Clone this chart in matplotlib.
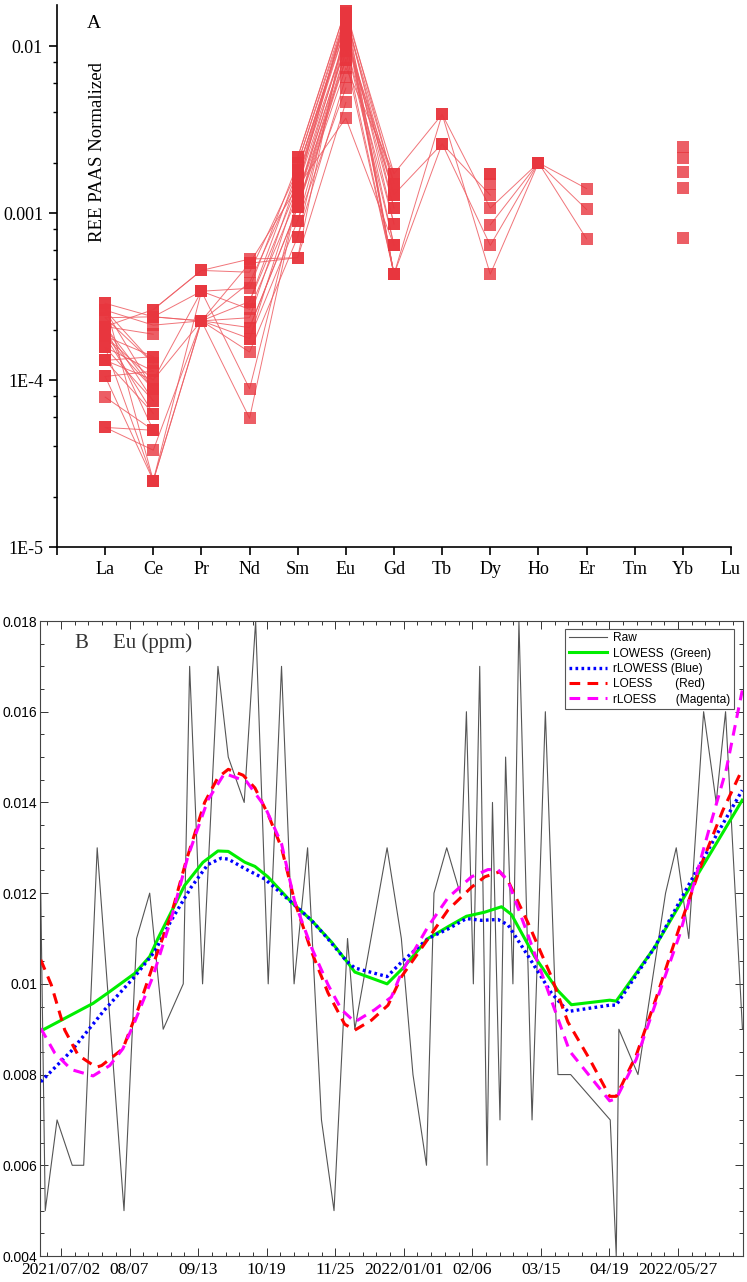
import numpy as np
import matplotlib.pyplot as plt
from matplotlib.ticker import FixedLocator, MultipleLocator, NullFormatter, LogLocator

nan = np.nan

# ===== PANEL A: REE patterns (PAAS normalized), one entry per sample =====
elements = ['La', 'Ce', 'Pr', 'Nd', 'Sm', 'Eu', 'Gd', 'Tb', 'Dy', 'Ho', 'Er', 'Tm', 'Yb', 'Lu']

la = [2.88e-4, 2.62e-4, 2.36e-4, 2.09e-4, 1.83e-4, 1.57e-4, 1.31e-4, 1.05e-4, 7.9e-5, 5.2e-5,
      2.88e-4, 2.62e-4, 2.09e-4, 1.83e-4, 1.57e-4, 2.09e-4, 1.31e-4, 1.83e-4, 2.36e-4, 5.2e-5,
      1.05e-4, 2.09e-4, 1.57e-4, 2.62e-4, 1.83e-4, nan, nan, nan, 1.31e-4, nan, nan, 2.09e-4]
ce = [2.39e-4, 1.26e-4, 2.39e-4, 2.64e-4, 8.8e-5, 7.5e-5, 6.3e-5, 1.13e-4, 5.0e-5, 3.8e-5,
      2.5e-5, 2.13e-4, 1.88e-4, 1.38e-4, 2.5e-5, 8.8e-5, 1.00e-4, 6.3e-5, 1.26e-4, 5.0e-5,
      2.5e-5, 7.5e-5, 1.13e-4, 8.8e-5, 1.00e-4, nan, 2.39e-4, 2.64e-4, 1.38e-4, nan, nan, 5.0e-5]
pr = [2.26e-4, nan, 3.4e-4, 4.53e-4, nan, nan, nan, nan, nan, 2.26e-4,
      2.26e-4, 2.26e-4, nan, nan, 3.4e-4, nan, 2.26e-4, nan, nan, nan,
      2.26e-4, nan, nan, nan, 3.4e-4, nan, 2.26e-4, 4.53e-4, nan, 2.26e-4, nan, nan]
nd = [2.95e-4, nan, 3.54e-4, 5.3e-4, nan, nan, nan, nan, nan, 5.9e-5,
      2.06e-4, 1.47e-4, nan, 5.0e-4, 8.85e-5, nan, 2.36e-4, nan, 2.95e-4, nan,
      1.77e-4, nan, nan, nan, 2.65e-4, 1.77e-4, 3.83e-4, 4.42e-4, nan, 5.0e-4, 2.06e-4, nan]
sm = [1.44e-3, 2.16e-3, 1.98e-3, 5.4e-4, 1.26e-3, 1.08e-3, 1.8e-3, 9.0e-4, 1.62e-3, 1.26e-3,
      1.08e-3, 7.2e-4, 1.44e-3, 5.4e-4, 1.26e-3, 1.98e-3, 1.62e-3, 7.2e-4, 1.8e-3, nan,
      1.44e-3, 1.08e-3, nan, 2.16e-3, 1.26e-3, 9.0e-4, 1.62e-3, 1.8e-3, nan, 1.44e-3, 1.08e-3, nan]
eu = [0.0157, 0.0167, 0.0148, 0.0139, 0.0120, 0.0102, 0.0130, 0.0093, 0.0111, 0.0083,
      0.0074, 0.0120, 0.0148, 0.0046, 0.0102, 0.0157, 0.0130, 0.0065, 0.0139, 0.0093,
      0.0111, 0.0083, 0.0120, 0.0167, 0.0102, 0.0056, 0.0148, 0.0139, 0.0130, 0.0037, 0.0093, 0.0111]
gd = [1.72e-3, 1.5e-3, 1.29e-3, 4.3e-4, 1.07e-3, 8.6e-4, 6.4e-4, 4.3e-4, 1.5e-3, 4.3e-4,
      1.72e-3, 1.29e-3, 4.3e-4, nan, 6.4e-4, 1.07e-3, 4.3e-4, nan, 8.6e-4, nan,
      1.29e-3, nan, nan, 4.3e-4, nan, nan, 1.5e-3, 4.3e-4, nan, 6.4e-4, nan, nan]
tb = [3.9e-3, nan, 2.6e-3, 3.9e-3, nan, nan, nan, 2.6e-3] + [nan] * 24
dy = [4.3e-4, 1.71e-3, 1.28e-3, 1.07e-3, nan, nan, nan, 6.4e-4, 1.5e-3, nan,
      8.5e-4, nan, nan, nan, nan, 1.71e-3] + [nan] * 16
ho = [2.0e-3, nan, nan, 2.0e-3, nan, nan, nan, 2.0e-3, nan, nan, 2.0e-3] + [nan] * 21
er = [7.0e-4, nan, nan, 1.05e-3, nan, nan, nan, 1.4e-3] + [nan] * 24
tm = [nan] * 32
yb = [nan, 2.48e-3, nan, nan, nan, 2.13e-3, nan, nan, nan, nan,
      nan, nan, 1.77e-3, nan, nan, nan, nan, nan, 1.42e-3, nan,
      nan, nan, nan, 7.1e-4] + [nan] * 8
lu = [nan] * 32

y_ticks_a = [1e-5, 1e-4, 1e-3, 1e-2]
y_labels_a = ['1E-5', '1E-4', '0.001', '0.01']

# ===== PANEL B: Eu (ppm) time series, x = days since 2021/07/02 =====
raw_day = [-10.8, -8.4, -2.1, 6.0, 12.1, 19.3, 33.6, 40.3, 47.3, 54.5,
           65.2, 68.6, 75.5, 83.7, 89.2, 97.7, 103.8, 110.5, 117.6, 124.3,
           131.5, 138.9, 145.6, 152.8, 156.7, 173.9, 181.5, 187.7, 194.9, 198.9,
           205.7, 212.8, 216.2, 219.9, 223.3, 227.2, 230.1, 234.1, 237.1, 241.0,
           244.2, 251.2, 258.3, 265.0, 271.8, 292.9, 296.1, 297.5, 307.7, 322.4,
           328.1, 334.8, 342.7, 349.4, 354.4, 363.4]
raw_eu = [0.012, 0.005, 0.007, 0.006, 0.006, 0.013, 0.005, 0.011, 0.012, 0.009,
          0.010, 0.017, 0.010, 0.017, 0.015, 0.014, 0.018, 0.010, 0.017, 0.010,
          0.013, 0.007, 0.005, 0.011, 0.009, 0.013, 0.011, 0.008, 0.006, 0.012,
          0.013, 0.012, 0.016, 0.010, 0.017, 0.006, 0.014, 0.007, 0.015, 0.010,
          0.018, 0.007, 0.016, 0.008, 0.008, 0.007, 0.004, 0.009, 0.008, 0.012,
          0.013, 0.011, 0.016, 0.014, 0.016, 0.009]

lowess_day = [-10.8, 0.2, 17.1, 25.0, 39.3, 47.3, 51.7, 65.9, 75.7, 83.7, 89.2, 98.1,
              103.4, 110.3, 122.9, 133.6, 144.3, 152.3, 156.7, 173.9, 182.4, 195.7,
              206.4, 216.2, 225.9, 234.9, 240.2, 252.6, 265.0, 272.2, 292.6, 296.1,
              316.5, 333.4, 349.4, 363.3]
lowess_eu = [0.00896, 0.0092, 0.00957, 0.0098, 0.01023, 0.0106, 0.0110, 0.01217, 0.01268,
             0.01293, 0.01292, 0.01268, 0.01259, 0.01236, 0.0118, 0.0114, 0.01092, 0.0105,
             0.01026, 0.0100, 0.01035, 0.0110, 0.01126, 0.01149, 0.01158, 0.0117, 0.01153,
             0.0106, 0.00985, 0.00954, 0.00964, 0.00962, 0.0108, 0.01199, 0.01309, 0.01405]

rlowess_day = [-10.8, 5.5, 23.3, 39.3, 49.9, 58.8, 69.4, 78.3, 85.4, 89.2, 98.1, 108.7,
               122.9, 133.6, 142.4, 152.3, 156.7, 173.9, 181.6, 195.7, 206.4, 216.2,
               224.2, 233.0, 238.4, 249.0, 261.5, 270.3, 292.6, 296.1, 316.5, 333.4,
               349.4, 363.3]
rlowess_eu = [0.00784, 0.00852, 0.00943, 0.01016, 0.01071, 0.0114, 0.01213, 0.01263,
              0.01277, 0.01275, 0.01254, 0.01231, 0.0118, 0.0114, 0.01099, 0.0105, 0.01035,
              0.01016, 0.01048, 0.0110, 0.01121, 0.01144, 0.0114, 0.01142, 0.0113, 0.01062,
              0.0098, 0.00939, 0.00953, 0.00953, 0.0108, 0.01208, 0.01327, 0.01427]

loess_day = [-10.8, -5.2, 2.0, 9.1, 18.8, 21.7, 33.0, 41.0, 50.8, 58.8, 66.8, 76.6, 83.7,
             89.2, 97.1, 103.4, 110.5, 117.6, 124.7, 133.6, 142.4, 151.3, 156.7, 165.6,
             174.4, 181.6, 195.7, 206.4, 218.9, 226.0, 233.9, 238.4, 249.0, 261.5, 270.3,
             281.9, 292.6, 296.1, 306.8, 317.5, 329.9, 342.3, 352.9, 363.3]
loess_eu = [0.01053, 0.00998, 0.00898, 0.00843, 0.00816, 0.0082, 0.00857, 0.00943, 0.01062,
            0.01153, 0.01272, 0.0140, 0.01455, 0.01473, 0.0146, 0.01432, 0.01373, 0.0130,
            0.0118, 0.01071, 0.0098, 0.00911, 0.00898, 0.0092, 0.00953, 0.01016, 0.01099,
            0.01163, 0.01213, 0.01236, 0.01247, 0.01227, 0.01135, 0.01016, 0.00916, 0.00834,
            0.00752, 0.00752, 0.00843, 0.0097, 0.01126, 0.01272, 0.01382, 0.01473]

rloess_day = [-10.8, -3.4, 5.5, 17.1, 26.0, 33.0, 39.3, 49.0, 58.8, 67.7, 78.3, 87.2, 99.0,
              108.7, 117.6, 124.7, 133.6, 142.4, 149.6, 156.7, 167.3, 176.2, 181.6, 195.7,
              206.4, 218.9, 227.7, 233.0, 238.4, 249.0, 263.3, 271.2, 281.9, 292.6, 296.1,
              306.8, 317.5, 329.9, 345.9, 354.8, 363.3]
rloess_eu = [0.00902, 0.00848, 0.00811, 0.00797, 0.0082, 0.00857, 0.00916, 0.01016, 0.01144,
             0.01281, 0.01405, 0.01464, 0.01446, 0.01391, 0.01309, 0.0118, 0.0108, 0.00998,
             0.00943, 0.00916, 0.00943, 0.00971, 0.01025, 0.01126, 0.0119, 0.01236, 0.01252,
             0.01252, 0.01227, 0.01108, 0.00943, 0.00852, 0.00797, 0.00742, 0.00747, 0.00834,
             0.00962, 0.01108, 0.01345, 0.01473, 0.01647]

date_labels = ['2021/07/02', '08/07', '09/13', '10/19', '11/25',
               '2022/01/01', '02/06', '03/15', '04/19', '2022/05/27']
y_ticks_b = [0.004, 0.006, 0.008, 0.010, 0.012, 0.014, 0.016, 0.018]
y_labels_b = ['0.004', '0.006', '0.008', '0.01', '0.012', '0.014', '0.016', '0.018']

# ===== FIGURE =====
plt.rcParams['font.family'] = ['Liberation Serif', 'DejaVu Serif']
fig = plt.figure(figsize=(7.47, 12.82), dpi=100)

# ---- Panel A ----
ax1 = fig.add_axes([57 / 747, 1 - 547 / 1282, (731 - 57) / 747, (547 - 5) / 1282])
samples = np.array([la, ce, pr, nd, sm, eu, gd, tb, dy, ho, er, tm, yb, lu]).T
xpos = np.arange(1, len(elements) + 1)
for row in samples:
    ax1.plot(xpos, row, '-', color='#ee5c62', lw=0.7, alpha=0.85, zorder=2)
for row in samples:
    ax1.plot(xpos, row, 's', color='#e8363e', ms=8, mew=0, alpha=0.8, zorder=3)

ax1.set_yscale('log')
ax1.set_xlim(0, 14)
ax1.set_ylim(1e-5, 10 ** (-2 + 41 / 167))
ax1.spines['top'].set_visible(False)
ax1.spines['right'].set_visible(False)
for s in ['left', 'bottom']:
    ax1.spines[s].set_linewidth(1.2)
ax1.xaxis.set_major_locator(FixedLocator(list(range(0, 15))))
ax1.set_xticklabels([''] + elements, fontsize=13)
ax1.yaxis.set_major_locator(FixedLocator(y_ticks_a))
ax1.set_yticklabels(y_labels_a, fontsize=13)
ax1.yaxis.set_minor_locator(LogLocator(base=10, subs=(2, 4, 6, 8)))
ax1.yaxis.set_minor_formatter(NullFormatter())
ax1.tick_params(axis='both', which='major', direction='out', length=6, width=1.2, pad=4)
ax1.tick_params(axis='y', which='minor', direction='out', length=3, width=1.0)
ax1.text(87 / 747, 1 - 23.5 / 1282, 'A', transform=fig.transFigure, fontsize=14,
         va='center', ha='left')
ax1.text(97.5 / 747, 1 - 152 / 1282, 'REE PAAS Normalized', transform=fig.transFigure,
         fontsize=13.5, rotation=90, va='center', ha='center')

# ---- Panel B ----
ax2 = fig.add_axes([40 / 747, 1 - 1256 / 1282, (743 - 40) / 747, (1256 - 621) / 1282])
ax2.plot(raw_day, raw_eu, color='#555555', lw=0.8, label='Raw')
ax2.plot(lowess_day, lowess_eu, color='#00ee00', lw=2.2, label='LOWESS  (Green)')
ax2.plot(rlowess_day, rlowess_eu, color='#0000ff', lw=2.4, ls=(0, (0.8, 1.0)),
         label='rLOWESS (Blue)')
ax2.plot(loess_day, loess_eu, color='#ff0000', lw=2.2, ls=(0, (3.5, 2.4)),
         label='LOESS       (Red)')
ax2.plot(rloess_day, rloess_eu, color='#ff00ff', lw=2.2, ls=(0, (3.5, 2.4)),
         label='rLOESS      (Magenta)')

tick_step = 36.56
ax2.set_xlim(-11.2, 363.7)
ax2.set_ylim(0.004, 0.018)
ax2.xaxis.set_major_locator(FixedLocator([i * tick_step for i in range(len(date_labels))]))
ax2.set_xticklabels(date_labels, fontsize=12.5)
ax2.xaxis.set_minor_locator(MultipleLocator(tick_step / 5))
ax2.yaxis.set_major_locator(FixedLocator(y_ticks_b))
ax2.set_yticklabels(y_labels_b, fontsize=10, family=['Liberation Sans', 'DejaVu Sans'])
ax2.yaxis.set_minor_locator(MultipleLocator(0.0005))
ax2.tick_params(axis='both', which='both', direction='in', top=True, right=True,
                color='#333333', width=0.7)
ax2.tick_params(axis='both', which='major', length=6)
ax2.tick_params(axis='both', which='minor', length=3)
ax2.tick_params(axis='x', which='major', pad=4)
ax2.tick_params(axis='y', which='major', pad=2)
for s in ax2.spines.values():
    s.set_linewidth(0.8)
    s.set_color('#444444')

ax2.text((74 - 40) / 703, (1256 - 643) / 635, 'B', transform=ax2.transAxes,
         fontsize=15, va='center', ha='left', color='#333333')
ax2.text((113 - 40) / 703, (1256 - 643) / 635, 'Eu (ppm)', transform=ax2.transAxes,
         fontsize=15, va='center', ha='left', color='#333333')

leg = ax2.legend(loc='upper right', bbox_to_anchor=(0.987, 0.988), fontsize=8.6,
                 prop={'family': ['Liberation Sans', 'DejaVu Sans'], 'size': 8.6},
                 frameon=True, fancybox=False, framealpha=1, edgecolor='#555555',
                 handlelength=3.2, labelspacing=0.28, borderpad=0.3, handletextpad=0.5,
                 borderaxespad=0)
leg.get_frame().set_linewidth(0.8)

fig.savefig('out.png', dpi=100)
